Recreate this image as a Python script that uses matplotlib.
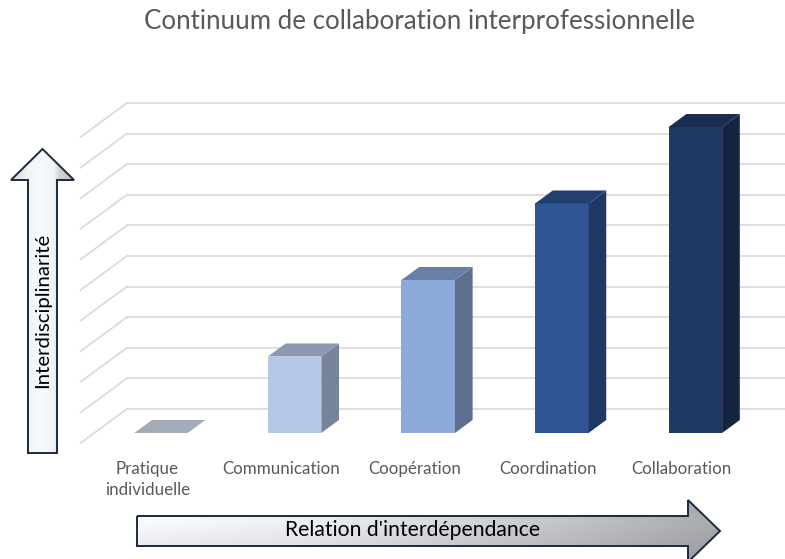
import numpy as np
import matplotlib
matplotlib.use("Agg")
import matplotlib.pyplot as plt
from matplotlib.patches import Polygon

plt.rcParams['font.family'] = ['Lato', 'DejaVu Sans']

# data
categories = ["Pratique\nindividuelle", "Communication", "Coopération", "Coordination", "Collaboration"]
values = [0, 2.5, 5, 7.5, 10]
grid_values = np.arange(0, 11, 1)

# colours (front, top, side) per bar
front_colors = ["#c3c9d4", "#b4c7e7", "#8eaadb", "#2f5597", "#203864"]
top_colors = ["#a3abb9", "#8b98b0", "#6a7fa6", "#233f70", "#1a2d50"]
side_colors = ["#8f97a6", "#76839a", "#5d6e90", "#1f3864", "#142440"]

W, H = 785, 559
fig = plt.figure(figsize=(W / 100, H / 100), dpi=100)

# main axes = front plane of the bars
ax = fig.add_axes([94.2 / W, 126 / H, 668 / W, 306 / H])
ax.set_xlim(-0.5, 4.5)
ax.set_ylim(0, 10)
ax.axis('off')

half = 0.2          # half bar width (data units)
DX, DY = 0.1325, 0.425   # oblique depth step for one bar depth
back, front = 1.85, -0.77

# walls gridlines
for v in grid_values:
    yb = v + back * DY
    ax.plot([-0.5 + back * DX, 4.8], [yb, yb], color="#dcdcdc", lw=1.3, clip_on=False, zorder=1)
    ax.plot([-0.5 + front * DX, -0.5 + back * DX], [v + front * DY, yb],
            color="#dcdcdc", lw=1.3, clip_on=False, zorder=1)

# 3d-looking bars
for i, v in enumerate(values):
    x0, x1 = i - half, i + half
    if v > 0:
        ax.add_patch(Polygon([(x0, 0), (x1, 0), (x1, v), (x0, v)], closed=True,
                             facecolor=front_colors[i], edgecolor='none', zorder=3, clip_on=False))
        ax.add_patch(Polygon([(x1, 0), (x1 + DX, DY), (x1 + DX, v + DY), (x1, v)], closed=True,
                             facecolor=side_colors[i], edgecolor='none', zorder=3, clip_on=False))
    ax.add_patch(Polygon([(x0, v), (x1, v), (x1 + DX, v + DY), (x0 + DX, v + DY)], closed=True,
                         facecolor=top_colors[i], edgecolor='none', zorder=3, clip_on=False))

# category labels at the floor front
for i, lab in enumerate(categories):
    ax.text(i + front * DX, -0.9, lab, ha='center', va='top', fontsize=12.2,
            color="#595959", linespacing=1.4, clip_on=False)

fig.text(420 / W, 1 - 22 / H, "Continuum de collaboration interprofessionnelle",
         ha='center', va='center', fontsize=18.6, color="#595959")

# decoration axes in pixel coordinates (for the two big arrows)
deco = fig.add_axes([0, 0, 1, 1], zorder=-1)
deco.set_xlim(0, W)
deco.set_ylim(H, 0)
deco.axis('off')


def gradient_arrow(pts, img, extent):
    poly = Polygon(pts, closed=True, facecolor='none', edgecolor="#1c2a3e", lw=1.4, zorder=3)
    deco.add_patch(poly)
    im = deco.imshow(img, extent=extent, aspect='auto', zorder=2, interpolation='bilinear')
    im.set_clip_path(poly)


# vertical arrow
vpts = [(28, 453), (57, 453), (57, 180), (74, 180), (42.5, 149), (11, 180), (28, 180)]
t = np.linspace(0, 1, 64)
prof = np.interp(t, [0, 0.25, 0.5, 0.68, 0.78, 1], [0.86, 0.97, 1.0, 0.97, 0.84, 0.78])
vimg = np.dstack([prof * 0.97, prof * 0.98, prof]).repeat(4, axis=0)
vimg = np.clip(vimg, 0, 1)
gradient_arrow(vpts, vimg, (11, 74, 453, 149))
deco.text(43, 310, "Interdisciplinarité", rotation=90, ha='center', va='center',
          fontsize=14.7, color='black')

# horizontal arrow
hpts = [(137, 516), (688, 516), (688, 500), (720, 531), (688, 562), (688, 546), (137, 546)]
tx = np.linspace(0, 1, 128)
hprof = np.interp(tx, [0, 0.3, 1], [1.0, 0.95, 0.68])
ty = np.linspace(0, 1, 32)
vfac = np.interp(ty, [0, 0.35, 1], [0.97, 1.0, 0.9])
g = vfac[:, None] * hprof[None, :]
himg = np.clip(np.dstack([g * 0.98, g * 0.985, g]), 0, 1)
gradient_arrow(hpts, himg, (137, 720, 562, 500))
deco.text(413, 530, "Relation d'interdépendance", ha='center', va='center',
          fontsize=15.2, color='black')

fig.savefig("out.png", dpi=100)
